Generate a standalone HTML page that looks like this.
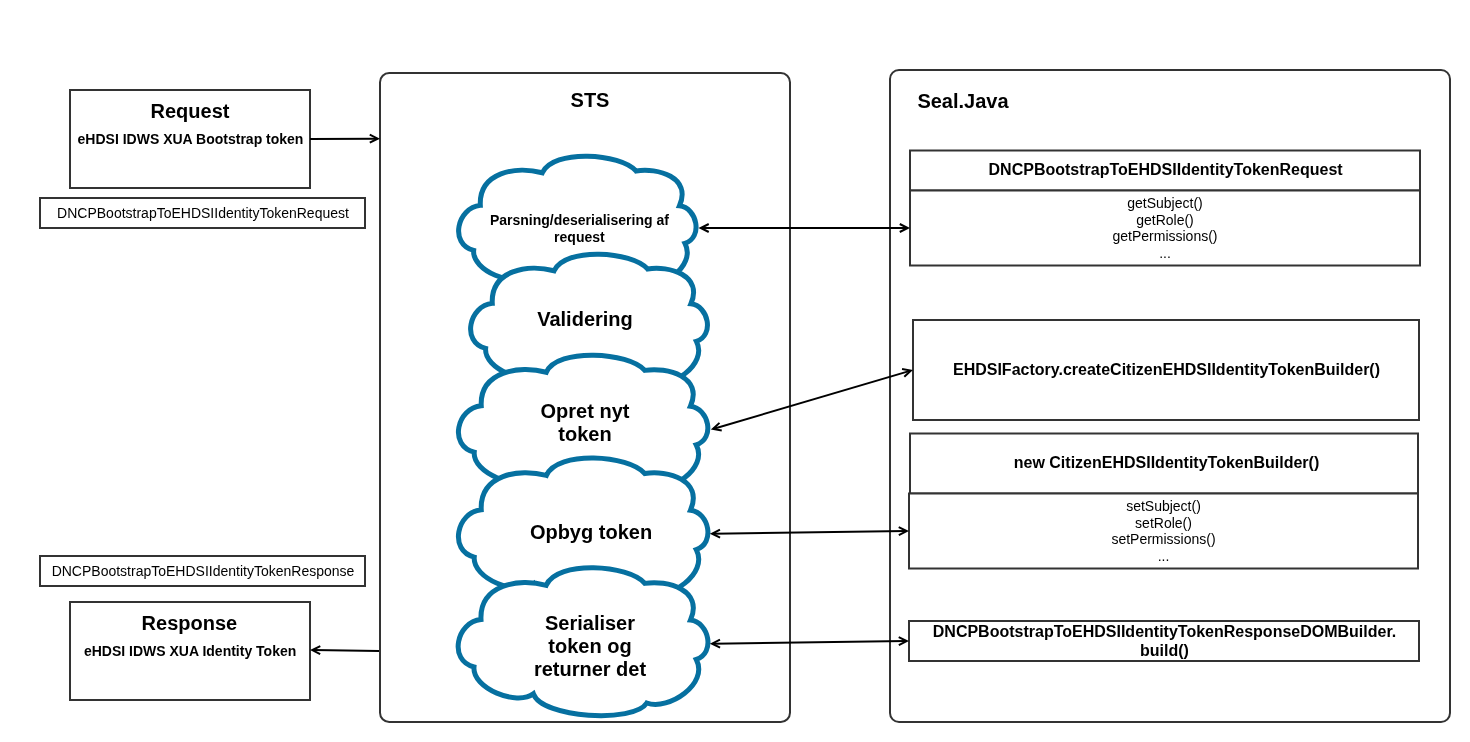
<!DOCTYPE html>
<html><head><meta charset="utf-8"><title>STS flow</title>
<style>
html,body{margin:0;padding:0;background:#fff}
body{width:1470px;height:742px;position:relative;overflow:hidden;font-family:"Liberation Sans",sans-serif;color:#000}
svg{position:absolute;left:0;top:0}
.t{position:absolute;white-space:nowrap;color:#000}
#labels{position:absolute;left:0;top:0;width:1470px;height:742px;will-change:transform}
</style></head><body>
<svg width="1470" height="742" viewBox="0 0 1470 742">
<rect x="380" y="73" width="410" height="649" rx="9.2" fill="#fff" stroke="#333" stroke-width="2"/>
<rect x="890" y="70" width="560" height="652" rx="9" fill="#fff" stroke="#333" stroke-width="2"/>
<rect x="70" y="90" width="240" height="98" rx="0" fill="#fff" stroke="#333" stroke-width="2"/>
<rect x="40" y="198" width="325" height="30" rx="0" fill="#fff" stroke="#333" stroke-width="2"/>
<rect x="40" y="556" width="325" height="30" rx="0" fill="#fff" stroke="#333" stroke-width="2"/>
<rect x="70" y="602" width="240" height="98" rx="0" fill="#fff" stroke="#333" stroke-width="2"/>
<rect x="910" y="150.5" width="510" height="40" rx="0" fill="#fff" stroke="#333" stroke-width="2"/>
<rect x="910" y="190.5" width="510" height="75" rx="0" fill="#fff" stroke="#333" stroke-width="2"/>
<rect x="913" y="320" width="506" height="100" rx="0" fill="#fff" stroke="#333" stroke-width="2"/>
<rect x="910" y="433.5" width="508" height="60" rx="0" fill="#fff" stroke="#333" stroke-width="2"/>
<rect x="909" y="493.5" width="509" height="75" rx="0" fill="#fff" stroke="#333" stroke-width="2"/>
<rect x="909" y="621" width="510" height="40" rx="0" fill="#fff" stroke="#333" stroke-width="2"/>
<path d="M480.32 205.37 C478.71 172.10 516.35 165.55 542.29 172.77 C552.75 148.72 620.80 153.09 636.01 170.96 C657.30 167.35 692.09 177.14 679.45 205.85 C697.22 207.94 703.21 237.31 684.96 243.30 C697.03 266.39 658.92 292.06 637.91 284.64 C625.84 304.03 538.30 299.09 530.13 275.90 C514.54 287.78 471.77 270.86 473.67 250.43 C448.96 244.15 457.13 207.46 480.32 205.37 Z" fill="#fff" stroke="#0670a0" stroke-width="5" stroke-linejoin="miter" stroke-miterlimit="10"/>
<path d="M492.27 303.37 C490.65 270.10 528.20 263.55 554.08 270.77 C564.51 246.72 632.39 251.09 647.56 268.96 C668.80 265.35 703.50 275.14 690.89 303.85 C708.62 305.94 714.59 335.31 696.39 341.30 C708.43 364.39 670.41 390.06 649.46 382.64 C637.42 402.03 550.10 397.09 541.95 373.90 C526.40 385.78 483.73 368.86 485.63 348.43 C460.98 342.15 469.13 305.46 492.27 303.37 Z" fill="#fff" stroke="#0670a0" stroke-width="5" stroke-linejoin="miter" stroke-miterlimit="10"/>
<path d="M481.24 405.78 C479.54 371.56 519.07 364.82 546.33 372.25 C557.31 347.51 628.80 352.01 644.77 370.39 C667.13 366.68 703.67 376.75 690.40 406.27 C709.06 408.42 715.35 438.63 696.19 444.79 C708.86 468.55 668.83 494.95 646.77 487.32 C634.09 507.26 542.14 502.18 533.55 478.33 C517.18 490.55 472.25 473.14 474.25 452.12 C448.29 445.67 456.88 407.93 481.24 405.78 Z" fill="#fff" stroke="#0670a0" stroke-width="5" stroke-linejoin="miter" stroke-miterlimit="10"/>
<path d="M481.25 509.71 C479.55 474.73 519.10 467.84 546.37 475.43 C557.35 450.15 628.86 454.74 644.84 473.53 C667.22 469.73 703.77 480.03 690.49 510.21 C709.16 512.41 715.46 543.29 696.28 549.59 C708.97 573.87 668.91 600.86 646.84 593.06 C634.16 613.45 542.17 608.25 533.58 583.87 C517.20 596.36 472.26 578.57 474.25 557.08 C448.29 550.49 456.88 511.91 481.25 509.71 Z" fill="#fff" stroke="#0670a0" stroke-width="5" stroke-linejoin="miter" stroke-miterlimit="10"/>
<path d="M481.00 619.60 C479.30 584.60 518.90 577.70 546.20 585.30 C557.20 560.00 628.80 564.60 644.80 583.40 C667.20 579.60 703.80 589.90 690.50 620.10 C709.20 622.30 715.50 653.20 696.30 659.50 C709.00 683.80 668.90 710.80 646.80 703.00 C634.10 723.40 542.00 718.20 533.40 693.80 C517.00 706.30 472.00 688.50 474.00 667.00 C448.00 660.40 456.60 621.80 481.00 619.60 Z" fill="#fff" stroke="#0670a0" stroke-width="5" stroke-linejoin="miter" stroke-miterlimit="10"/>
<path d="M310.00 138.90 L376.80 138.66" fill="none" stroke="#000" stroke-width="2"/><path d="M369.78 142.69 L377.76 138.66 L369.75 134.69" fill="none" stroke="#000" stroke-width="2" stroke-miterlimit="10"/>
<path d="M379.00 651.00 L313.20 650.05" fill="none" stroke="#000" stroke-width="2"/><path d="M320.29 646.15 L312.24 650.03 L320.18 654.15" fill="none" stroke="#000" stroke-width="2" stroke-miterlimit="10"/>
<path d="M701.70 228.00 L906.80 228.00" fill="none" stroke="#000" stroke-width="2"/><path d="M899.76 232.00 L907.76 228.00 L899.76 224.00" fill="none" stroke="#000" stroke-width="2" stroke-miterlimit="10"/><path d="M708.74 224.00 L700.74 228.00 L708.74 232.00" fill="none" stroke="#000" stroke-width="2" stroke-miterlimit="10"/>
<path d="M713.87 428.70 L909.93 370.90" fill="none" stroke="#000" stroke-width="2"/><path d="M904.31 376.73 L910.86 370.63 L902.05 369.06" fill="none" stroke="#000" stroke-width="2" stroke-miterlimit="10"/><path d="M719.49 422.87 L712.94 428.97 L721.75 430.54" fill="none" stroke="#000" stroke-width="2" stroke-miterlimit="10"/>
<path d="M713.00 533.76 L905.80 531.04" fill="none" stroke="#000" stroke-width="2"/><path d="M898.82 535.14 L906.76 531.03 L898.71 527.14" fill="none" stroke="#000" stroke-width="2" stroke-miterlimit="10"/><path d="M719.98 529.66 L712.04 533.77 L720.09 537.66" fill="none" stroke="#000" stroke-width="2" stroke-miterlimit="10"/>
<path d="M713.00 643.66 L905.80 641.04" fill="none" stroke="#000" stroke-width="2"/><path d="M898.82 645.14 L906.76 641.03 L898.71 637.14" fill="none" stroke="#000" stroke-width="2" stroke-miterlimit="10"/><path d="M719.98 639.56 L712.04 643.67 L720.09 647.56" fill="none" stroke="#000" stroke-width="2" stroke-miterlimit="10"/>
</svg>
<div id="labels">
<div class="t" style="left:70px;top:99px;width:240px;font-size:20px;font-weight:bold;text-align:center;line-height:24px">Request</div>
<div class="t" style="left:70.5px;top:130px;width:240px;font-size:14px;font-weight:bold;text-align:center;line-height:18px">eHDSI IDWS XUA Bootstrap token</div>
<div class="t" style="left:40.5px;top:204px;width:325px;font-size:14px;font-weight:normal;text-align:center;line-height:18px">DNCPBootstrapToEHDSIIdentityTokenRequest</div>
<div class="t" style="left:40.5px;top:562px;width:325px;font-size:14px;font-weight:normal;text-align:center;line-height:18px">DNCPBootstrapToEHDSIIdentityTokenResponse</div>
<div class="t" style="left:69.4px;top:611px;width:240px;font-size:20px;font-weight:bold;text-align:center;line-height:24px">Response</div>
<div class="t" style="left:70.1px;top:642px;width:240px;font-size:14px;font-weight:bold;text-align:center;line-height:18px">eHDSI IDWS XUA Identity Token</div>
<div class="t" style="left:380px;top:88px;width:420px;font-size:20px;font-weight:bold;text-align:center;line-height:24px">STS</div>
<div class="t" style="left:917.4px;top:89px;width:300px;font-size:20px;font-weight:bold;text-align:left;line-height:24px">Seal.Java</div>
<div class="t" style="left:459.4px;top:212.2px;width:240px;font-size:14px;font-weight:bold;text-align:center;line-height:17px">Parsning/deserialisering af<br>request</div>
<div class="t" style="left:465px;top:307px;width:240px;font-size:20px;font-weight:bold;text-align:center;line-height:24px">Validering</div>
<div class="t" style="left:465px;top:400px;width:240px;font-size:20px;font-weight:bold;text-align:center;line-height:23px">Opret nyt<br>token</div>
<div class="t" style="left:471px;top:520px;width:240px;font-size:20px;font-weight:bold;text-align:center;line-height:24px">Opbyg token</div>
<div class="t" style="left:470px;top:612px;width:240px;font-size:20px;font-weight:bold;text-align:center;line-height:23px">Serialiser<br>token og<br>returner det</div>
<div class="t" style="left:910.6px;top:160px;width:510px;font-size:16px;font-weight:bold;text-align:center;line-height:19px">DNCPBootstrapToEHDSIIdentityTokenRequest</div>
<div class="t" style="left:910px;top:195px;width:510px;font-size:14px;font-weight:normal;text-align:center;line-height:16.7px">getSubject()<br>getRole()<br>getPermissions()<br>...</div>
<div class="t" style="left:913.5px;top:360px;width:506px;font-size:16px;font-weight:bold;text-align:center;line-height:19px">EHDSIFactory.createCitizenEHDSIIdentityTokenBuilder()</div>
<div class="t" style="left:910.5px;top:453px;width:512px;font-size:16px;font-weight:bold;text-align:center;line-height:19px">new CitizenEHDSIIdentityTokenBuilder()</div>
<div class="t" style="left:909px;top:498px;width:509px;font-size:14px;font-weight:normal;text-align:center;line-height:16.7px">setSubject()<br>setRole()<br>setPermissions()<br>...</div>
<div class="t" style="left:909.5px;top:622px;width:510px;font-size:16px;font-weight:bold;text-align:center;line-height:19px">DNCPBootstrapToEHDSIIdentityTokenResponseDOMBuilder.<br>build()</div>
</div>
</body></html>
